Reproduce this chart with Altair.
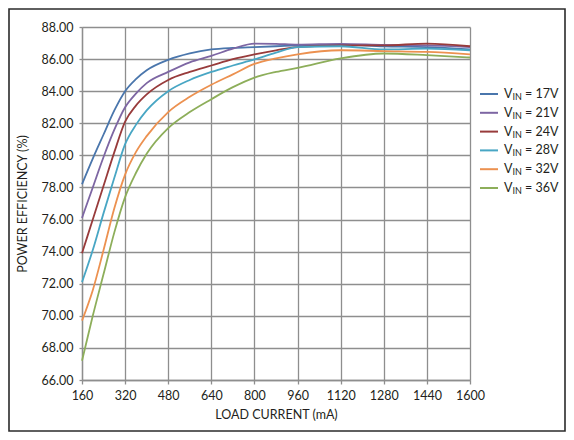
import altair as alt
import pandas as pd

# Load current (mA) sample points
current_ma = [160, 200, 240, 280, 320, 360, 400, 480, 560, 640, 720, 800, 880, 960, 1120, 1280, 1440, 1600]

eff_17v = [78.2, 79.8, 81.3, 82.8, 84.0, 84.75, 85.3, 85.95, 86.35, 86.6, 86.7, 86.75, 86.8, 86.85, 86.9, 86.8, 86.75, 86.6]
eff_21v = [76.1, 78.0, 79.9, 81.6, 83.0, 83.85, 84.5, 85.2, 85.8, 86.2, 86.65, 86.97, 86.95, 86.9, 86.95, 86.88, 86.85, 86.75]
eff_24v = [73.9, 76.0, 78.1, 80.2, 82.1, 83.1, 83.8, 84.7, 85.2, 85.6, 86.0, 86.3, 86.55, 86.75, 86.85, 86.85, 86.97, 86.8]
eff_28v = [72.1, 74.1, 76.4, 78.6, 80.7, 81.9, 82.8, 84.0, 84.7, 85.2, 85.6, 85.98, 86.4, 86.75, 86.8, 86.6, 86.65, 86.55]
eff_32v = [69.7, 71.6, 74.1, 76.7, 78.8, 80.2, 81.2, 82.7, 83.65, 84.4, 85.05, 85.7, 86.05, 86.3, 86.55, 86.5, 86.45, 86.3]
eff_36v = [67.2, 70.0, 72.6, 75.2, 77.4, 78.9, 80.1, 81.7, 82.7, 83.5, 84.25, 84.85, 85.2, 85.45, 86.05, 86.35, 86.25, 86.1]

series_names = ["17V", "21V", "24V", "28V", "32V", "36V"]
series_values = [eff_17v, eff_21v, eff_24v, eff_28v, eff_32v, eff_36v]
series_colors = ["#4A76AC", "#7D66A3", "#983B3B", "#48A6C4", "#EC9150", "#8DAE5A"]

x_ticks = [160, 320, 480, 640, 800, 960, 1120, 1280, 1440, 1600]
y_ticks = [66, 68, 70, 72, 74, 76, 78, 80, 82, 84, 86, 88]

rows = []
for name, vals in zip(series_names, series_values):
    for c, v in zip(current_ma, vals):
        rows.append({"series": name, "current": c, "eff": v})
df = pd.DataFrame(rows)

legend_df = pd.DataFrame({
    "series": series_names,
    "idx": list(range(len(series_names))),
    "rest": ["= " + s for s in series_names],
})

W, H = 388, 353
FONT = "Lato"
TXT = "#231f20"
GRID = "#8e8e8e"

color_scale = alt.Scale(domain=series_names, range=series_colors)

lines = alt.Chart(df).mark_line(strokeWidth=1.8, interpolate="monotone").encode(
    x=alt.X("current:Q",
            scale=alt.Scale(domain=[160, 1600], nice=False, zero=False),
            axis=alt.Axis(values=x_ticks, title="LOAD CURRENT (mA)", format="d",
                          tickSize=4, labelPadding=5, titlePadding=7,
                          labelOverlap=False, labelFlush=False)),
    y=alt.Y("eff:Q",
            scale=alt.Scale(domain=[66, 88], nice=False, zero=False),
            axis=alt.Axis(values=y_ticks, title="POWER EFFICIENCY (%)", format=".2f",
                          tickSize=3, labelPadding=6, titlePadding=12,
                          labelOverlap=False, labelFlush=False)),
    color=alt.Color("series:N", scale=color_scale, legend=None),
    detail="series:N",
)

leg_y = alt.Y("idx:O", scale=alt.Scale(type="point", range=[67, 161], padding=0), axis=None)

swatch = alt.Chart(legend_df).mark_rule(strokeWidth=2).encode(
    x=alt.value(W + 10), x2=alt.value(W + 28),
    y=leg_y,
    color=alt.Color("series:N", scale=color_scale, legend=None),
)

v_text = alt.Chart(legend_df).mark_text(align="left", baseline="middle", fontSize=12.5,
                                         font=FONT, color=TXT).encode(
    x=alt.value(W + 34), y=leg_y, text=alt.value("V"))

in_text = alt.Chart(legend_df).mark_text(align="left", baseline="middle", fontSize=9,
                                          font=FONT, color=TXT, dy=3).encode(
    x=alt.value(W + 42.5), y=leg_y, text=alt.value("IN"))

rest_text = alt.Chart(legend_df).mark_text(align="left", baseline="middle", fontSize=12.5,
                                            font=FONT, color=TXT).encode(
    x=alt.value(W + 55), y=leg_y, text="rest:N")

border = alt.Chart(pd.DataFrame({"a": [0]})).mark_rect(
    filled=False, stroke="#2b2b2b", strokeWidth=1.6).encode(
    x=alt.value(-73), x2=alt.value(W + 95),
    y=alt.value(-18), y2=alt.value(H + 51),
)

chart = alt.layer(lines, swatch, v_text, in_text, rest_text, border).resolve_scale(
    y="independent"
).properties(
    width=W, height=H,
    autosize=alt.AutoSizeParams(type="none"),
    padding={"left": 74, "top": 19, "right": 96, "bottom": 52},
).configure_view(stroke=None).configure_axis(
    labelFont=FONT, titleFont=FONT, labelFontSize=12.5, titleFontSize=12.5,
    labelColor=TXT, titleColor=TXT, titleFontWeight="normal",
    gridColor=GRID, gridWidth=1.3, gridOpacity=1,
    domainColor=GRID, domainWidth=1.3, tickColor=GRID, tickWidth=1.3,
)

chart.save("out.html", embed_options={"renderer": "svg", "actions": False})
